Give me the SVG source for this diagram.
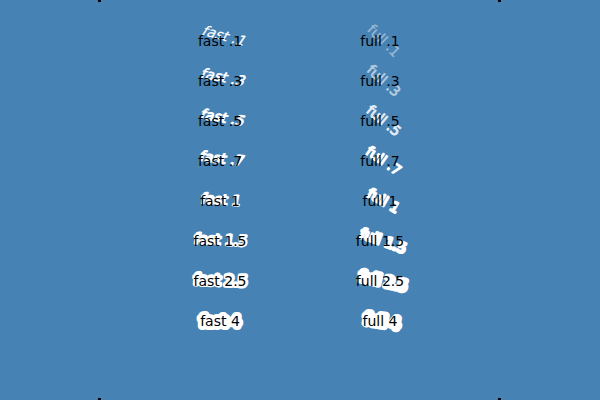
<svg xmlns="http://www.w3.org/2000/svg" width="600" height="400" viewBox="0 0 600 400">
<style>
text{font-family:"DejaVu Sans",sans-serif;font-size:14px;text-anchor:middle}
.lbl{fill:#000}
.w{fill:#fff;stroke:#fff;stroke-linejoin:round;stroke-linecap:round}
.tick{fill:#000}
</style>
<rect width="600" height="400" fill="#4682b4"/>
<rect class="tick" x="98" y="0" width="3" height="2"/>
<rect class="tick" x="498" y="0" width="3" height="2"/>
<rect class="tick" x="98" y="398" width="3" height="2"/>
<rect class="tick" x="498" y="398" width="3" height="2"/>
<g id="fast">
<g id="fast-01"><text class="w" x="220" y="46" stroke-width="0.2" transform="translate(243,48) rotate(15) skewX(-18) translate(-243,-48)">fast .1</text><text class="lbl" x="220" y="46">fast .1</text></g>
<g id="fast-03"><text class="w" x="220" y="86" stroke-width="0.6" transform="translate(243,88) rotate(11) skewX(-15) translate(-243,-88)">fast .3</text><text class="lbl" x="220" y="86">fast .3</text></g>
<g id="fast-05"><text class="w" x="220" y="126" stroke-width="1" transform="translate(243,128) rotate(10) skewX(-13) translate(-243,-128)">fast .5</text><text class="lbl" x="220" y="126">fast .5</text></g>
<g id="fast-07"><text class="w" x="220" y="166" stroke-width="1.4" transform="translate(243,168) rotate(7) skewX(-10) translate(-243,-168)">fast .7</text><text class="lbl" x="220" y="166">fast .7</text></g>
<g id="fast-1"><text class="w" x="220" y="206" stroke-width="2" transform="translate(243,207) rotate(4) skewX(-7) translate(-243,-207)">fast 1</text><text class="lbl" x="220" y="206">fast 1</text></g>
<g id="fast-15"><text class="w" x="220" y="246" stroke-width="3" transform="translate(248,247) rotate(3) skewX(-5) translate(-248,-247)">fast 1.5</text><text class="lbl" x="220" y="246">fast 1.5</text></g>
<g id="fast-25"><text class="w" x="220" y="286" stroke-width="5" transform="translate(248,287) rotate(2) skewX(-3) translate(-248,-287)">fast 2.5</text><text class="lbl" x="220" y="286">fast 2.5</text></g>
<g id="fast-4"><text class="w" x="220" y="326" stroke-width="8">fast 4</text><text class="lbl" x="220" y="326">fast 4</text></g>
</g>
<g id="full">
<g id="full-01"><text class="w" x="383" y="46" stroke-width="0.2" opacity="0.45" transform="rotate(45 384 42)">full .1</text><text class="lbl" x="380" y="46">full .1</text></g>
<g id="full-03"><text class="w" x="383" y="86" stroke-width="0.6" opacity="0.6" transform="rotate(42 384 82)">full .3</text><text class="lbl" x="380" y="86">full .3</text></g>
<g id="full-05"><text class="w" x="383" y="126" stroke-width="1" opacity="0.85" transform="rotate(40 384 122)">full .5</text><text class="lbl" x="380" y="126">full .5</text></g>
<g id="full-07"><text class="w" x="383" y="166" stroke-width="1.4" transform="rotate(35 384 162)">full .7</text><text class="lbl" x="380" y="166">full .7</text></g>
<g id="full-1"><text class="w" x="383" y="206" stroke-width="2" transform="rotate(30 384 202)">full 1</text><text class="lbl" x="380" y="206">full 1</text></g>
<g id="full-15"><text class="w" x="383" y="246" stroke-width="3" transform="rotate(20 384 242)">full 1.5</text><text class="lbl" x="380" y="246">full 1.5</text></g>
<g id="full-25"><text class="w" x="383" y="286" stroke-width="6" transform="rotate(13 384 282)">full 2.5</text><text class="lbl" x="380" y="286">full 2.5</text></g>
<g id="full-4"><text class="w" x="382" y="326" stroke-width="8" transform="rotate(9 383 322)">full 4</text><text class="lbl" x="380" y="326">full 4</text></g>
</g>
</svg>
